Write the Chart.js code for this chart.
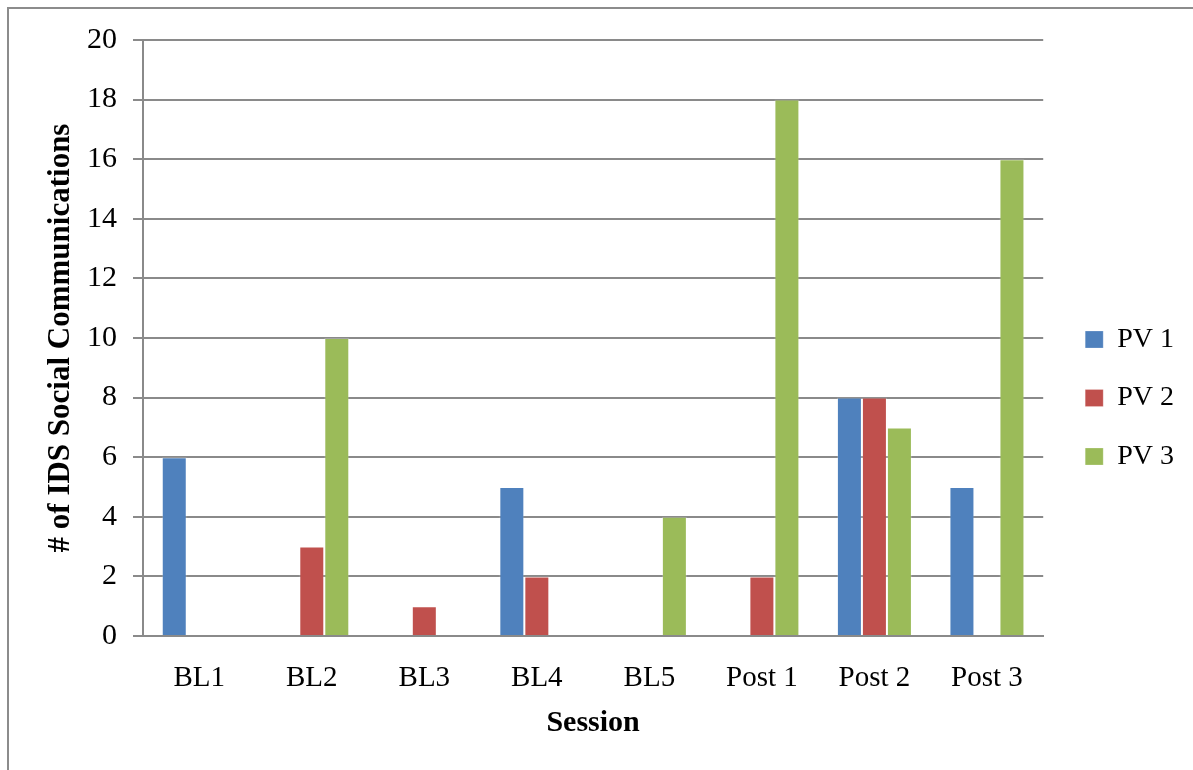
<!DOCTYPE html>
<html>
<head>
<meta charset="utf-8">
<title># of IDS Social Communications by Session</title>
<script src="https://cdn.jsdelivr.net/npm/chart.js@4/dist/chart.umd.min.js"></script>
<style>
  html, body { margin: 0; padding: 0; background: #ffffff; overflow: hidden; }
  #wrap { position: relative; width: 1193px; height: 770px; }
  #frame {
    position: absolute; left: 7px; top: 7px; width: 1300px; height: 900px;
    border-left: 2px solid #8c8c8c; border-top: 2px solid #8c8c8c;
    pointer-events: none;
  }
  canvas { position: absolute; left: 0; top: 0; }
</style>
</head>
<body>
<div id="wrap">
  <canvas id="chart" width="1193" height="770"></canvas>
  <div id="frame"></div>
</div>
<script>
// Sessions on the category axis
const sessions = ['BL1', 'BL2', 'BL3', 'BL4', 'BL5', 'Post 1', 'Post 2', 'Post 3'];

// Count of IDS social communications per session, one array per participant
const pv1 = [6, 0, 0, 5, 0, 0, 8, 5];
const pv2 = [0, 3, 1, 2, 0, 2, 8, 0];
const pv3 = [0, 10, 0, 0, 4, 18, 7, 16];

const seriesNames = ['PV 1', 'PV 2', 'PV 3'];
const seriesColors = ['#4F81BD', '#C0504D', '#9BBB59'];

// Value axis range
const yMin = 0;
const yMax = 20;
const yStep = 2;

const serif = '"Liberation Serif", "Times New Roman", serif';
const gridGray = '#8a8a8a';

const datasets = [pv1, pv2, pv3].map((values, i) => ({
  label: seriesNames[i],
  data: values,
  backgroundColor: seriesColors[i],
  borderColor: 'rgba(255,255,255,0.22)',
  borderWidth: 1,
  categoryPercentage: 3 / 4.5,
  barPercentage: 1.0
}));

new Chart(document.getElementById('chart'), {
  type: 'bar',
  data: { labels: sessions, datasets: datasets },
  options: {
    responsive: false,
    animation: false,
    devicePixelRatio: 1,
    layout: { padding: { top: 40, bottom: 14, left: 0, right: 9 } },
    plugins: {
      tooltip: { enabled: false },
      legend: {
        position: 'right',
        align: 'center',
        labels: {
          boxWidth: 18,
          boxHeight: 17,
          padding: 30.5,
          color: '#000000',
          font: { family: serif, size: 28 }
        }
      }
    },
    scales: {
      x: {
        grid: { display: false, drawTicks: false },
        border: { display: true, color: gridGray, width: 2 },
        ticks: { color: '#000000', padding: 25, font: { family: serif, size: 29 }, maxRotation: 0 },
        title: {
          display: true,
          text: 'Session',
          color: '#000000',
          font: { family: serif, size: 30, weight: 'bold' },
          padding: { top: 0, bottom: 15 }
        },
        afterFit: (scale) => { scale.height = 120; }
      },
      y: {
        min: yMin,
        max: yMax,
        grid: { color: gridGray, lineWidth: 2, tickLength: 10, drawTicks: true },
        border: { display: true, color: gridGray, width: 2 },
        ticks: {
          stepSize: yStep,
          color: '#000000',
          padding: 16,
          font: { family: serif, size: 30 }
        },
        title: {
          display: true,
          text: '# of IDS Social Communications',
          color: '#000000',
          font: { family: serif, size: 31, weight: 'bold' },
          padding: { top: 42, bottom: 0 }
        },
        afterFit: (scale) => { scale.width = 143; }
      },
      gap: {
        position: 'right',
        display: true,
        grid: { display: false, drawTicks: false },
        border: { display: false },
        ticks: { display: false },
        afterFit: (scale) => { scale.width = 11.5; }
      }
    }
  }
});
</script>
</body>
</html>
